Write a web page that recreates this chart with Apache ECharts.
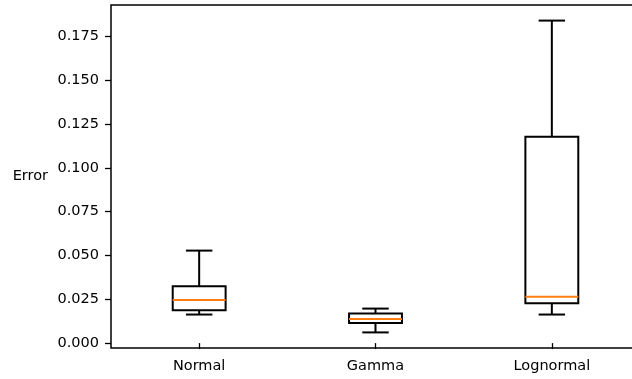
<!DOCTYPE html>
<html>
<head>
<meta charset="utf-8">
<script src="https://cdn.jsdelivr.net/npm/echarts@6/dist/echarts.min.js"></script>
<style>
html,body{margin:0;padding:0;background:#fff;overflow:hidden;width:632px;height:379px;}
#chart{width:650px;height:379px;}
</style>
</head>
<body>
<div id="chart"></div>
<script>
const categories = ['Normal', 'Gamma', 'Lognormal'];
const whiskerLow = [0.0163, 0.0061, 0.0163];
const q1 = [0.0188, 0.0115, 0.0227];
const median = [0.0246, 0.0138, 0.0265];
const q3 = [0.0324, 0.0169, 0.1178];
const whiskerHigh = [0.0528, 0.0197, 0.1841];
const yTicks = [0, 0.025, 0.05, 0.075, 0.1, 0.125, 0.15, 0.175];

const FONT = 'DejaVu Sans';
const FS = 14.5;

const chart = echarts.init(document.getElementById('chart'), null, {renderer: 'canvas'});

const boxData = categories.map((c, i) => [i, whiskerLow[i], q1[i], median[i], q3[i], whiskerHigh[i]]);

function renderItem(params, api) {
  const i = api.value(0);
  const band = api.size([1, 0])[0];
  const bw = band * 0.3;
  const cw = band * 0.15;
  const pLo = api.coord([i, api.value(1)]);
  const pQ1 = api.coord([i, api.value(2)]);
  const pMed = api.coord([i, api.value(3)]);
  const pQ3 = api.coord([i, api.value(4)]);
  const pHi = api.coord([i, api.value(5)]);
  const cx = pLo[0];
  const lw = 2;
  const lineStyle = {stroke: '#000', lineWidth: lw, fill: null};
  return {
    type: 'group',
    children: [
      {type: 'line', shape: {x1: cx, y1: pQ1[1], x2: cx, y2: pLo[1]}, style: lineStyle},
      {type: 'line', shape: {x1: cx, y1: pQ3[1], x2: cx, y2: pHi[1]}, style: lineStyle},
      {type: 'line', shape: {x1: cx - cw / 2, y1: pLo[1], x2: cx + cw / 2, y2: pLo[1]}, style: lineStyle},
      {type: 'line', shape: {x1: cx - cw / 2, y1: pHi[1], x2: cx + cw / 2, y2: pHi[1]}, style: lineStyle},
      {type: 'rect', shape: {x: cx - bw / 2, y: pQ3[1], width: bw, height: pQ1[1] - pQ3[1]}, style: {stroke: '#000', lineWidth: lw, fill: 'none'}},
      {type: 'line', shape: {x1: cx - bw / 2, y1: pMed[1], x2: cx + bw / 2, y2: pMed[1]}, style: {stroke: '#ff7f0e', lineWidth: lw}}
    ]
  };
}

chart.setOption({
  animation: false,
  backgroundColor: '#fff',
  grid: {left: 111, right: 10, top: 5, bottom: 31, show: true, borderColor: '#000', borderWidth: 1.5, backgroundColor: 'transparent'},
  xAxis: {
    type: 'category',
    data: categories,
    boundaryGap: true,
    axisLine: {show: false},
    axisTick: {show: true, alignWithLabel: true, length: 6, lineStyle: {color: '#000', width: 1.3}},
    axisLabel: {color: '#000', fontFamily: FONT, fontSize: FS, margin: 11, interval: 0},
    splitLine: {show: false}
  },
  yAxis: {
    type: 'value',
    min: -0.0028,
    max: 0.193,
    name: 'Error',
    nameLocation: 'middle',
    nameRotate: 0,
    nameGap: 63,
    nameTextStyle: {color: '#000', fontFamily: FONT, fontSize: FS, align: 'right', verticalAlign: 'middle'},
    axisLine: {show: false},
    axisTick: {show: true, length: 6, lineStyle: {color: '#000', width: 1.3}, customValues: yTicks},
    axisLabel: {color: '#000', fontFamily: FONT, fontSize: FS, margin: 12, customValues: yTicks,
      formatter: v => Number(v).toFixed(3)},
    splitLine: {show: false}
  },
  series: [{
    type: 'custom',
    renderItem: renderItem,
    data: boxData,
    encode: {x: 0, y: [1, 2, 3, 4, 5]},
    clip: false
  }]
});
</script>
</body>
</html>
